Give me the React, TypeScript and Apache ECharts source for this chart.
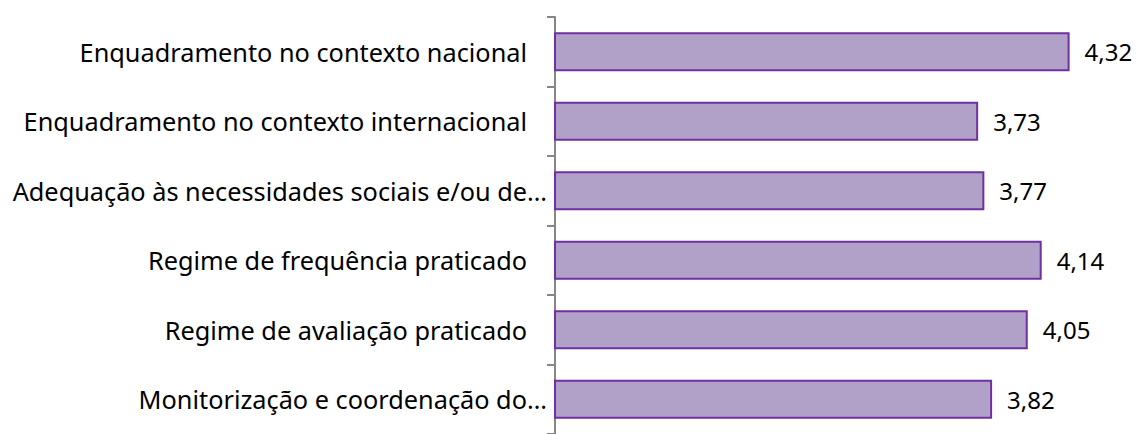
import React, { useEffect, useRef } from "react";
import * as echarts from "echarts";

const categories = [
  "Enquadramento no contexto nacional",
  "Enquadramento no contexto internacional",
  "Adequação às necessidades sociais e/ou de…",
  "Regime de frequência praticado",
  "Regime de avaliação praticado",
  "Monitorização e coordenação do…",
];
const values = [4.32, 3.73, 3.77, 4.14, 4.05, 3.82];
const valueLabels = ["4,32", "3,73", "3,77", "4,14", "4,05", "3,82"];

export default function App() {
  const ref = useRef<HTMLDivElement>(null);
  useEffect(() => {
    document.body.style.margin = "0";
    const chart = echarts.init(ref.current!, null, { renderer: "svg" });
    const font = "'Noto Sans', 'Open Sans', sans-serif";
    const fs = 25.3;
    chart.setOption({
      animation: false,
      grid: { left: 555, top: 17, height: 425, width: 542.5, containLabel: false },
      xAxis: {
        type: "value",
        min: 1,
        max: 4.5,
        show: false,
      },
      yAxis: {
        type: "category",
        data: categories,
        inverse: true,
        axisLine: { show: true, lineStyle: { color: "#868686", width: 2 } },
        axisTick: { show: true, inside: false, length: 8, lineStyle: { color: "#868686", width: 2 } },
        axisLabel: {
          margin: 8,
          color: "#000",
          fontSize: fs,
          fontFamily: font,
          formatter: (v: string) => (v.endsWith("…") ? `{e|${v}}` : `{a|${v}}`),
          rich: {
            a: { fontSize: fs, fontFamily: font, color: "#000", padding: [0, 20, 0, 0] },
            e: { fontSize: fs, fontFamily: font, color: "#000" },
          },
        },
        splitLine: { show: false },
      },
      series: [
        {
          type: "bar",
          data: values,
          barWidth: 39,
          itemStyle: { color: "#B1A0C7", borderColor: "#7030A0", borderWidth: 2 },
          label: {
            show: true,
            position: "right",
            distance: 15,
            color: "#000",
            fontSize: 24,
            fontFamily: font,
            formatter: (p: any) => valueLabels[p.dataIndex],
          },
        },
      ],
    });
    return () => chart.dispose();
  }, []);
  return <div ref={ref} style={{ width: 1136, height: 434 }} />;
}
